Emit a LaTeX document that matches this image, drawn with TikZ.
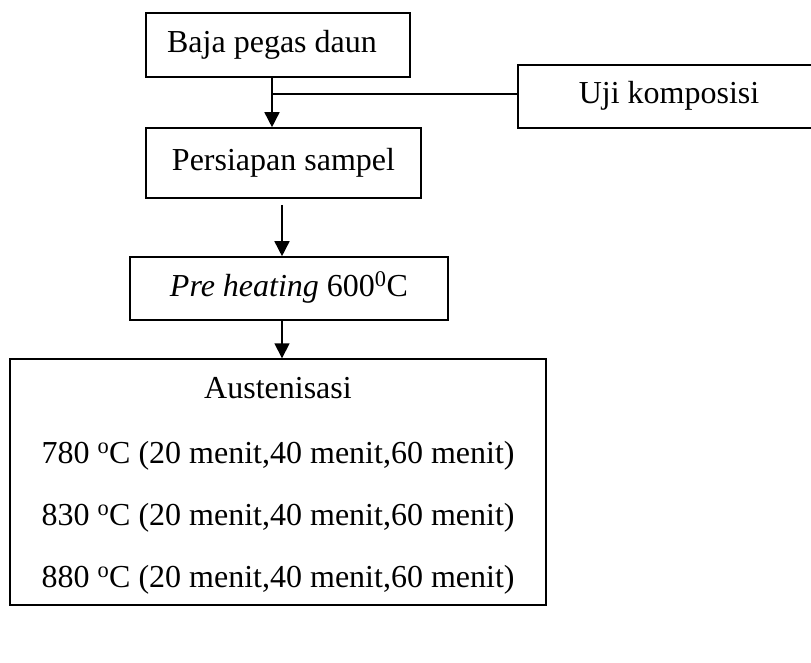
\documentclass[tikz,border=0pt]{standalone}
\usepackage{fontspec}
\setmainfont{Liberation Serif}
\usetikzlibrary{arrows.meta}
\begin{document}
\begin{tikzpicture}[x=1pt,y=-1pt,
  font=\fontsize{32}{38}\selectfont,
  box/.style={draw,line width=1.6pt,inner sep=0pt,text height=22pt,text depth=7pt},
  txt/.style={anchor=base,inner sep=0pt},
  arr/.style={line width=1.6pt,-{Triangle[width=15pt,length=15pt]}},
  branch/.style={line width=1.2pt}]
\useasboundingbox (0,0) rectangle (811,663);
\clip (0,0) rectangle (811,663);
\node[box,minimum width=264pt,minimum height=64pt] (b1) at (278,45) {Baja pegas daun\kern12pt\null};
\node[box,minimum width=302pt,minimum height=63pt] (uji) at (669,96.5) {Uji komposisi};
\node[box,minimum width=275pt,minimum height=70pt] (b2) at (283.5,163) {Persiapan sampel};
\node[box,minimum width=318pt,minimum height=63pt] (b3) at (289,288.5) {\textit{Pre heating} 600\textsuperscript{0}C};
\node[draw,line width=1.4pt,minimum width=536pt,minimum height=246pt,inner sep=0pt] (b4) at (278,482) {};
\node[txt] (t0) at (278,398) {Austenisasi};
\node[txt] (t1) at (278,463) {780 \textsuperscript{o}C (20 menit,40 menit,60 menit)};
\node[txt] (t2) at (278,525) {830 \textsuperscript{o}C (20 menit,40 menit,60 menit)};
\node[txt] (t3) at (278,587) {880 \textsuperscript{o}C (20 menit,40 menit,60 menit)};
\coordinate (j) at (272,94);
\draw[arr] (b1.south -| j) -- (b2.north -| j);
\draw[branch] (j) -- (uji.west |- j);
\draw[arr,shorten <=6pt] (b2.south -| 282,0) -- (b3.north -| 282,0);
\draw[arr] (b3.south -| 282,0) -- (b4.north -| 282,0);
\end{tikzpicture}
\end{document}
